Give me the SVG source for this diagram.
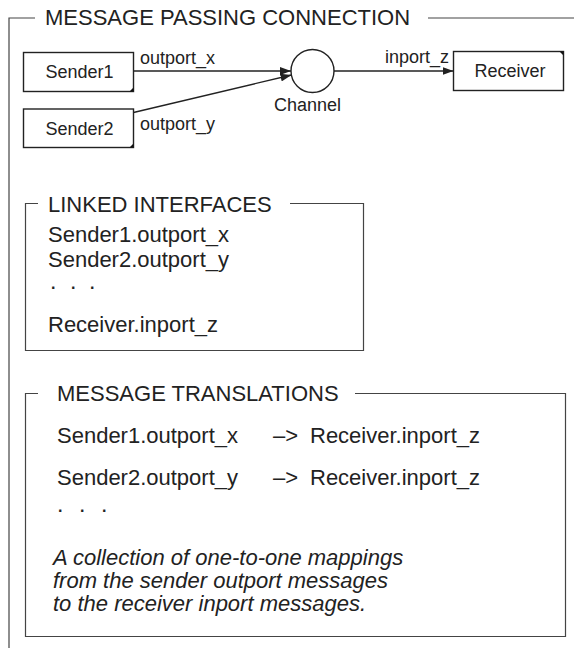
<svg xmlns="http://www.w3.org/2000/svg" width="574" height="648" viewBox="0 0 574 648">
  <style>
    text { font-family: "Liberation Sans", Arial, sans-serif; fill: #222; }
    .title { font-size: 22px; }
    .body { font-size: 22px; }
    .dots { font-size: 16px; font-weight: bold; }
    .label { font-size: 18px; }
    .note { font-size: 22px; font-style: italic; }
    .frame { fill: none; stroke: #444; stroke-width: 1.2; }
    .box { fill: #fff; stroke: #222; stroke-width: 1.4; }
    .tick { fill: #111; }
    .edge { fill: none; stroke: #222; stroke-width: 1.4; }
  </style>
  <defs>
    <marker id="arrow" markerWidth="11" markerHeight="8" refX="11" refY="4" orient="auto" markerUnits="userSpaceOnUse">
      <path d="M0,0 L11,4 L0,8 Z" fill="#222"/>
    </marker>
  </defs>
  <rect width="574" height="648" fill="#fff"/>

  <!-- outer frame: message passing connection -->
  <g id="frame-connection">
    <path class="frame" d="M35,18 H9 V648 M428,18 H574"/>
    <text class="title" x="45" y="25">MESSAGE PASSING CONNECTION</text>
  </g>

  <!-- nodes -->
  <g id="sender1">
    <rect class="box" x="23.5" y="52.5" width="110" height="39"/>
    <path class="tick" d="M133.5,87.5 V91.5 H129.5 Z"/>
    <text class="label" x="79.5" y="78" text-anchor="middle">Sender1</text>
  </g>
  <g id="sender2">
    <rect class="box" x="23.5" y="109" width="110" height="38.5"/>
    <path class="tick" d="M133.5,143.5 V147.5 H129.5 Z"/>
    <text class="label" x="79.5" y="134.5" text-anchor="middle">Sender2</text>
  </g>
  <g id="channel">
    <circle cx="312.5" cy="71" r="21.5" fill="#fff" stroke="#222" stroke-width="1.4"/>
    <text class="label" x="307.5" y="111" text-anchor="middle">Channel</text>
  </g>
  <g id="receiver">
    <rect class="box" x="453.5" y="51.5" width="110" height="39"/>
    <path class="tick" d="M559.5,51.5 H563.5 V55.5 Z"/>
    <text class="label" x="510" y="77" text-anchor="middle">Receiver</text>
  </g>

  <!-- connectors -->
  <g id="connectors">
    <line class="edge" x1="133.5" y1="71" x2="291" y2="71" marker-end="url(#arrow)"/>
    <line class="edge" x1="133.5" y1="112.5" x2="291.5" y2="75" marker-end="url(#arrow)"/>
    <line class="edge" x1="334" y1="71" x2="453.5" y2="71" marker-end="url(#arrow)"/>
    <text class="label" x="140" y="64">outport_x</text>
    <text class="label" x="140" y="130">outport_y</text>
    <text class="label" x="385" y="63">inport_z</text>
  </g>

  <!-- linked interfaces -->
  <g id="linked-interfaces">
    <path class="frame" d="M38,203.5 H25.5 V350.5 H363.5 V203.5 H290"/>
    <text class="title" x="48" y="212">LINKED INTERFACES</text>
    <text class="body" x="48" y="242">Sender1.outport_x</text>
    <text class="body" x="48" y="267">Sender2.outport_y</text>
    <text class="dots" x="51 71 90" y="289">...</text>
    <text class="body" x="48" y="332">Receiver.inport_z</text>
  </g>

  <!-- message translations -->
  <g id="message-translations">
    <path class="frame" d="M38,393.5 H25.5 V636.5 H565.5 V393.5 H355"/>
    <text class="title" x="57" y="401">MESSAGE TRANSLATIONS</text>
    <text class="body" x="57" y="443">Sender1.outport_x</text>
    <text class="body" x="273" y="443">–&gt;</text>
    <text class="body" x="310" y="443">Receiver.inport_z</text>
    <text class="body" x="57" y="485">Sender2.outport_y</text>
    <text class="body" x="273" y="485">–&gt;</text>
    <text class="body" x="310" y="485">Receiver.inport_z</text>
    <text class="dots" x="58 80 102" y="512">...</text>
    <text class="note" x="53" y="565">A collection of one-to-one mappings</text>
    <text class="note" x="53" y="588">from the sender outport messages</text>
    <text class="note" x="53" y="611">to the receiver inport messages.</text>
  </g>
</svg>
